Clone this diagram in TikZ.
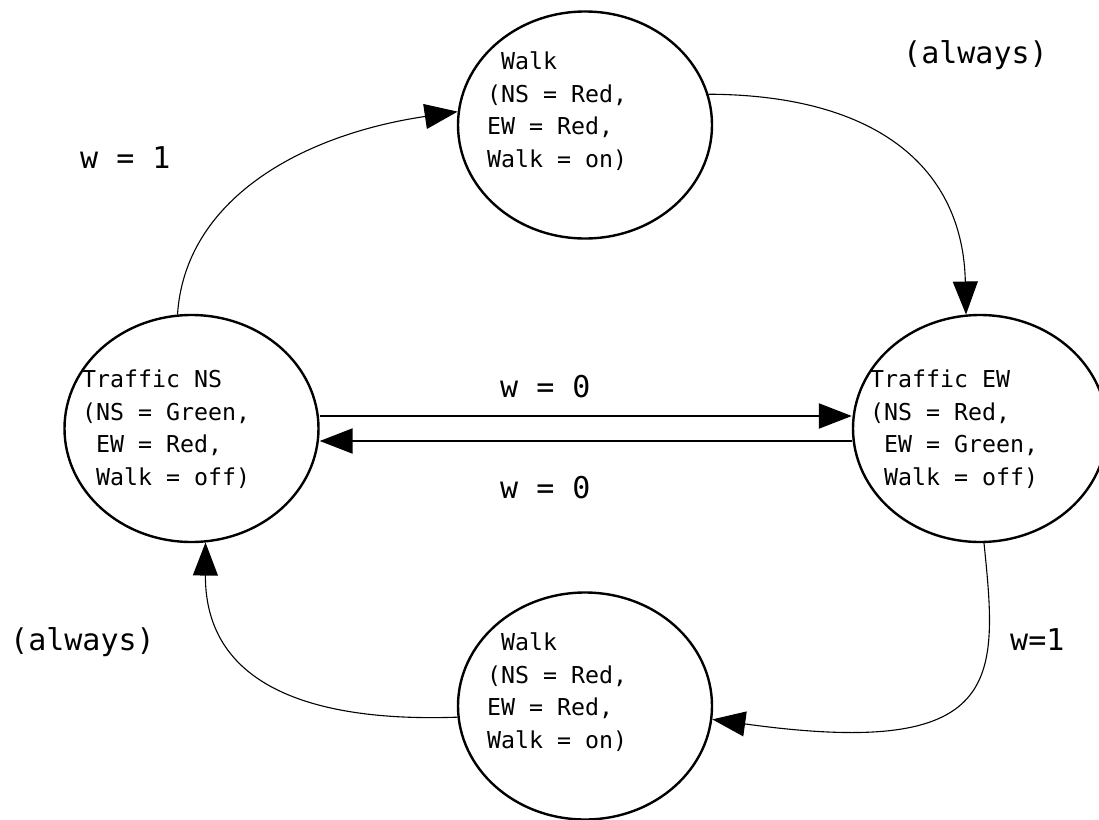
\documentclass[tikz,border=0pt]{standalone}
\usepackage{fontspec}
\setmainfont{DejaVu Sans Mono}
\usetikzlibrary{arrows.meta,shapes.geometric}
\begin{document}
\begin{tikzpicture}[x=1pt,y=-1pt,
  state/.style={draw,ellipse,line width=2.4pt,minimum width=254pt,minimum height=227pt,inner sep=0pt},
  stxt/.style={anchor=base west,align=left,inner sep=0pt,font=\fontsize{23.25}{32.5}\selectfont},
  lbl/.style={anchor=base west,inner sep=0pt,font=\fontsize{30}{36}\selectfont},
  arr/.style={-{Triangle[length=33pt,width=25pt]}},
  thinline/.style={line width=1.1pt},
  thickline/.style={line width=2.2pt}]
\fill[white] (0,0) rectangle (1099,819);
\useasboundingbox (0,0) rectangle (1099,819);

% states
\node[state] (walk1) at (585,125) {};
\node[state] (ns) at (191.5,428.5) {};
\node[state] (ew) at (980,428.5) {};
\node[state] (walk2) at (585,706) {};

% state texts (anchored at the baseline of their last line)
\node[stxt] (t1) at (487,167) {\phantom{x}Walk\\(NS = Red,\\EW = Red,\\Walk = on)};
\node[stxt] (t2) at (82,485) {Traffic NS\\(NS = Green,\\\phantom{x}EW = Red,\\\phantom{x}Walk = off)};
\node[stxt] (t3) at (870,485) {Traffic EW\\(NS = Red,\\\phantom{x}EW = Green,\\\phantom{x}Walk = off)};
\node[stxt] (t4) at (487,748) {\phantom{x}Walk\\(NS = Red,\\EW = Red,\\Walk = on)};

% labels
\node[lbl] (l1) at (80,168) {w = 1};
\node[lbl] (l2) at (903,63) {(always)};
\node[lbl] (l3) at (500,397) {w = 0};
\node[lbl] (l4) at (500,498) {w = 0};
\node[lbl] (l5) at (10,650) {(always)};
\node[lbl] (l6) at (1010,650) {w=1};

% horizontal transitions
\draw[thickline,arr] ([yshift=12.5pt]ns.east) -- ([yshift=12.5pt]ew.west);
\draw[thickline,arr] ([yshift=-12.5pt]ew.west) -- ([yshift=-12.5pt]ns.east);

% curved transitions
\draw[thinline,arr] (ns.97) .. controls (185,200) and (300,135) .. (walk1.174);
\draw[thinline,arr] (walk1.14) .. controls (880,95) and (963,170) .. (ew.97);
\draw[thinline,arr] (ew.-88) .. controls (998,680) and (1005,760) .. (walk2.-6);
\draw[thinline,arr] (walk2.185) .. controls (320,722) and (205,690) .. (ns.-83);
\end{tikzpicture}
\end{document}
